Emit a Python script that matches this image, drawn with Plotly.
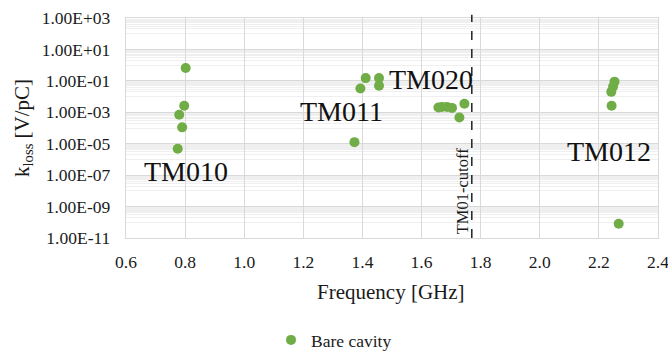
import plotly.graph_objects as go

# ---- data ----
freq_ghz = [0.802, 0.797, 0.780, 0.790, 0.775,
            1.411, 1.393, 1.456, 1.456, 1.373,
            1.657, 1.669, 1.686, 1.703, 1.728, 1.745,
            2.253, 2.248, 2.242, 2.243, 2.267]
kloss = [0.66, 2.6e-3, 7.0e-4, 1.1e-4, 4.8e-6,
         0.15, 0.033, 0.15, 0.049, 1.26e-5,
         2.0e-3, 2.2e-3, 2.2e-3, 1.9e-3, 4.7e-4, 3.5e-3,
         0.089, 0.043, 0.020, 2.6e-3, 8.0e-11]
series_name = "Bare cavity"

mode_labels = ["TM010", "TM011", "TM020", "TM012"]
mode_label_x = [0.803, 1.330, 1.633, 2.235]
mode_label_logy = [-6.78, -2.95, -0.93, -5.49]

cutoff_ghz = 1.77
cutoff_label = "TM01-cutoff"

x_ticks = [0.6, 0.8, 1.0, 1.2, 1.4, 1.6, 1.8, 2.0, 2.2, 2.4]
y_ticks = [1e3, 1e1, 1e-1, 1e-3, 1e-5, 1e-7, 1e-9, 1e-11]
y_ticktext = ["1.00E+03", "1.00E+01", "1.00E-01", "1.00E-03",
              "1.00E-05", "1.00E-07", "1.00E-09", "1.00E-11"]

FONT = "Liberation Serif"
GREEN = "#70ad47"
TXT = "#1a1a1a"
W, H = 668, 351
L, R, T, B = 126, 10, 18, 113
PW, PH = W - L - R, H - T - B

# minor gridlines (Excel log base-100 style: k * 10^(2n+1), k=1..9)
minor_vals = []
for e in range(-10, 3, 2):
    for k in range(1, 10):
        minor_vals.append(k * 10.0 ** e)

fig = go.Figure()
fig.add_trace(go.Scatter(
    x=freq_ghz, y=kloss, mode="markers", name=series_name,
    marker=dict(color=GREEN, size=10, line=dict(width=0)),
))

fig.update_layout(
    width=W, height=H,
    margin=dict(l=L, r=R, t=T, b=B, autoexpand=False),
    paper_bgcolor="white", plot_bgcolor="white",
    font=dict(family=FONT, size=17, color=TXT),
    showlegend=True,
    legend=dict(orientation="h", x=271 / W, y=(H - 340) / H,
                xref="container", yref="container",
                xanchor="left", yanchor="middle",
                font=dict(size=17.5, family=FONT, color=TXT), itemwidth=30),
)

fig.update_xaxes(
    range=[0.6, 2.4], tickvals=x_ticks, ticktext=[f"{v:.1f}" for v in x_ticks],
    showgrid=True, gridcolor="#d9d9d9", gridwidth=1.3, automargin=False,
    zeroline=False, showline=True, linecolor="#d9d9d9", linewidth=1.3, mirror=True,
    ticks="", ticklabelstandoff=8, ticklabeloverflow="allow",
    tickfont=dict(size=17.5, family=FONT, color=TXT),
)
fig.update_yaxes(
    type="log", range=[-11, 3], tickvals=y_ticks, ticktext=y_ticktext,
    showgrid=True, gridcolor="#d9d9d9", gridwidth=1.3, automargin=False,
    zeroline=False, showline=True, linecolor="#d9d9d9", linewidth=1.3, mirror=True,
    ticks="", ticklabelstandoff=11, ticklabeloverflow="allow",
    tickfont=dict(size=17.5, family=FONT, color=TXT),
    minor=dict(tickvals=minor_vals, showgrid=True, gridcolor="#efefef", gridwidth=1, ticks=""),
)

# cutoff dashed line
fig.add_shape(type="line", xref="x", yref="paper", x0=cutoff_ghz, x1=cutoff_ghz,
              y0=0, y1=1.015, line=dict(color="#222222", width=1.5, dash="dash"))
fig.add_annotation(x=1.737, y=-8.02, xref="x", yref="y", text=cutoff_label,
                   textangle=-90, showarrow=False, xanchor="center", yanchor="middle",
                   font=dict(size=16.5, family=FONT, color=TXT))

for lab, lx, ly in zip(mode_labels, mode_label_x, mode_label_logy):
    fig.add_annotation(x=lx, y=ly, xref="x", yref="y", text=lab, showarrow=False,
                       xanchor="center", yanchor="middle",
                       font=dict(size=28, family=FONT, color="#111111"))

# axis titles (positions converted from pixels to paper coords)
fig.add_annotation(x=(391 - L) / PW, y=(T + PH - 292) / PH, xref="paper", yref="paper",
                   xanchor="center", yanchor="middle",
                   text="Frequency [GHz]", showarrow=False,
                   font=dict(size=21, family=FONT, color=TXT))
fig.add_annotation(text="k<sub>loss</sub> [V/pC]", textangle=-90, showarrow=False,
                   xref="paper", yref="paper", x=(23 - L) / PW, y=(T + PH - 128) / PH,
                   xanchor="center", yanchor="middle",
                   font=dict(size=21, family=FONT, color=TXT))

fig.write_html("out.html")
